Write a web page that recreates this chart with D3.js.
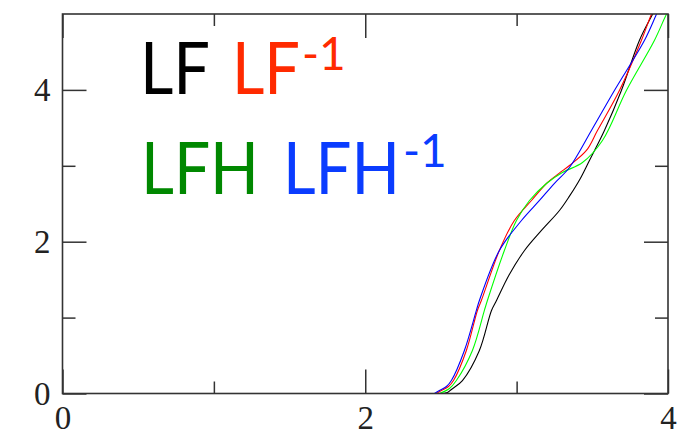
<!DOCTYPE html>
<html><head><meta charset="utf-8">
<script src="https://cdn.jsdelivr.net/npm/d3@7"></script>
<style>body{margin:0;background:#fff}</style>
</head><body><svg id="c" width="684" height="430"></svg>
<script>
// ---- data ----
const xTickValues = [0, 2, 4];
const xMinorTicks = [1, 3];
const yTickValues = [0, 2, 4];
const yMinorTicks = [1, 3];

const seriesNames = ["LF", "LF-1", "LFH", "LFH-1"];
const seriesColors = ["#000000", "#ff0000", "#00ff00", "#0000ff"];

const lfX = [2.490, 2.543, 2.569, 2.642, 2.754, 2.834, 2.867, 2.95, 3.052, 3.164, 3.283, 3.349, 3.420, 3.481, 3.580, 3.692, 3.811, 3.897, 3.95];
const lfY = [0.000, 0.013, 0.053, 0.171, 0.567, 1.094, 1.225, 1.56, 1.884, 2.148, 2.411, 2.600, 2.830, 3.070, 3.465, 3.992, 4.651, 4.993, 5.2];

const lfInvX = [2.470, 2.503, 2.550, 2.583, 2.668, 2.741, 2.767, 2.886, 2.985, 3.098, 3.197, 3.280, 3.349, 3.461, 3.534, 3.679, 3.824, 3.890, 3.94];
const lfInvY = [0.000, 0.040, 0.092, 0.171, 0.567, 1.094, 1.225, 1.884, 2.279, 2.543, 2.767, 2.900, 3.004, 3.202, 3.465, 3.992, 4.651, 4.993, 5.2];

const lfhX = [2.490, 2.556, 2.602, 2.708, 2.787, 2.807, 2.919, 2.999, 3.085, 3.197, 3.302, 3.435, 3.567, 3.725, 3.910, 3.989, 4.02];
const lfhY = [0.000, 0.066, 0.171, 0.567, 1.094, 1.225, 1.884, 2.279, 2.543, 2.767, 2.912, 3.043, 3.333, 3.992, 4.651, 4.993, 5.1];

const lfhInvX = [2.457, 2.490, 2.536, 2.569, 2.655, 2.734, 2.754, 2.886, 3.032, 3.151, 3.250, 3.349, 3.494, 3.646, 3.844, 3.923, 3.97];
const lfhInvY = [0.000, 0.040, 0.092, 0.171, 0.567, 1.094, 1.225, 1.884, 2.279, 2.543, 2.770, 2.978, 3.465, 3.992, 4.651, 4.993, 5.2];

const legendMain = ["LF", "LF", "LFH", "LFH"];
const legendSup = ["", "-1", "", "-1"];
const legendColors = ["#000000", "#ff2a00", "#008800", "#0a3cff"];

// ---- drawing ----
const svg = d3.select("#c");
const L = 62.5, R = 668, T = 14, B = 393.5;
const x = d3.scaleLinear().domain([0, 4]).range([L, R]);
const y = d3.scaleLinear().domain([0, 5]).range([B, T]);

svg.append("defs").append("clipPath").attr("id", "clip")
  .append("rect").attr("x", L).attr("y", T).attr("width", R - L).attr("height", B - T);

const series = [
  {xs: lfX, ys: lfY},
  {xs: lfInvX, ys: lfInvY},
  {xs: lfhX, ys: lfhY},
  {xs: lfhInvX, ys: lfhInvY}
];
const line = d3.line().x(d => x(d[0])).y(d => y(d[1])).curve(d3.curveCatmullRom.alpha(0.5));
const g = svg.append("g").attr("clip-path", "url(#clip)");
series.forEach((s, i) => {
  const pts = s.xs.map((v, j) => [v, s.ys[j]]);
  g.append("path").attr("d", line(pts)).attr("fill", "none")
    .attr("stroke", seriesColors[i]).attr("stroke-width", 1.1);
});

const tickColor = "#333";
function styleAxis(sel, showText) {
  sel.select(".domain").remove();
  sel.selectAll(".tick line").attr("stroke", tickColor).attr("stroke-width", 1.5);
  sel.selectAll(".tick text").attr("font-family", "'Liberation Serif', 'Times New Roman', serif")
    .attr("font-size", 33).attr("fill", "#222");
  if (!showText) sel.selectAll(".tick text").remove();
}
// major ticks
styleAxis(svg.append("g").attr("transform", `translate(0,${B})`)
  .call(d3.axisBottom(x).tickValues(xTickValues).tickSize(-24).tickPadding(12).tickFormat(d3.format("d"))), true);
styleAxis(svg.append("g").attr("transform", `translate(0,${T})`)
  .call(d3.axisTop(x).tickValues(xTickValues).tickSize(-24)), false);
styleAxis(svg.append("g").attr("transform", `translate(${L},0)`)
  .call(d3.axisLeft(y).tickValues(yTickValues).tickSize(-24).tickPadding(12).tickFormat(d3.format("d"))), true);
styleAxis(svg.append("g").attr("transform", `translate(${R},0)`)
  .call(d3.axisRight(y).tickValues(yTickValues).tickSize(-24)), false);
// minor ticks
styleAxis(svg.append("g").attr("transform", `translate(0,${B})`)
  .call(d3.axisBottom(x).tickValues(xMinorTicks).tickSize(-12)), false);
styleAxis(svg.append("g").attr("transform", `translate(0,${T})`)
  .call(d3.axisTop(x).tickValues(xMinorTicks).tickSize(-12)), false);
styleAxis(svg.append("g").attr("transform", `translate(${L},0)`)
  .call(d3.axisLeft(y).tickValues(yMinorTicks).tickSize(-13)), false);
styleAxis(svg.append("g").attr("transform", `translate(${R},0)`)
  .call(d3.axisRight(y).tickValues(yMinorTicks).tickSize(-13)), false);

// frame
svg.append("rect").attr("x", L).attr("y", T).attr("width", R - L).attr("height", B - T)
  .attr("fill", "none").attr("stroke", tickColor).attr("stroke-width", 1.6);

// legend text (main + superscript in one text element)
const legendPos = [
  {x: 140, y: 94, w: 70, sx: 0, sy: 0},
  {x: 232, y: 94, w: 68, sx: 302, sy: 70},
  {x: 141, y: 194, w: 118, sx: 0, sy: 0},
  {x: 283, y: 194, w: 117, sx: 403, sy: 167}
];
const fontFam = "Lato, 'Open Sans', sans-serif";
legendMain.forEach((t, i) => {
  const p = legendPos[i];
  const txt = svg.append("text").attr("font-family", fontFam).attr("fill", legendColors[i]);
  txt.append("tspan").attr("x", p.x).attr("y", p.y).attr("font-size", 71).text(t)
    .attr("textLength", p.w).attr("lengthAdjust", "spacingAndGlyphs");
  if (legendSup[i]) {
    txt.append("tspan").attr("x", p.sx).attr("y", p.sy).attr("font-size", 46).text(legendSup[i]);
  }
});
</script></body></html>
